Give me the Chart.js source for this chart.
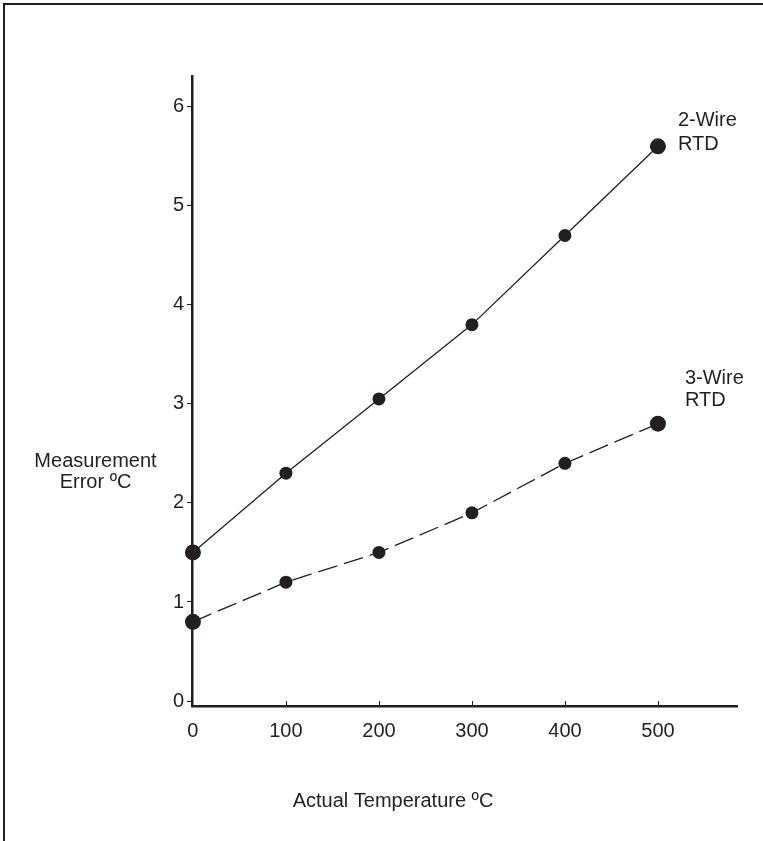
<!DOCTYPE html>
<html>
<head>
<meta charset="utf-8">
<script src="https://cdn.jsdelivr.net/npm/chart.js@4"></script>
<style>
  html, body { margin: 0; padding: 0; background: #fff; }
  canvas { display: block; }
</style>
</head>
<body>
<canvas id="rtdChart" width="763" height="841"></canvas>
<script>
// Measurement error vs actual temperature, 2-wire vs 3-wire RTD
const temps = [0, 100, 200, 300, 400, 500];
const twoWire = [1.5, 2.3, 3.05, 3.8, 4.7, 5.6];
const threeWire = [0.8, 1.2, 1.5, 1.9, 2.4, 2.8];
const xTicks = [0, 100, 200, 300, 400, 500];
const yTicks = [0, 1, 2, 3, 4, 5, 6];
const seriesNames = [['2-Wire', 'RTD'], ['3-Wire', 'RTD']];

const ink = '#231f20';
const font = "'Liberation Sans', Arial, Helvetica, sans-serif";
const bigEnds = [8, 6.5, 6.5, 6.5, 6.5, 8];

const toPoints = arr => temps.map((t, i) => ({ x: t, y: arr[i] }));

const decor = {
    id: 'decor',
    beforeDraw(chart) {
        const c = chart.ctx;
        c.save();
        c.fillStyle = ink;
        c.fillRect(3, 3, 760, 2);   // frame top
        c.fillRect(3, 3, 2, 838);   // frame left
        c.restore();
    },
    afterDraw(chart) {
        const c = chart.ctx;
        const xs = chart.scales.x;
        const ys = chart.scales.y;
        c.save();
        // inward ticks on x axis
        c.strokeStyle = ink;
        c.lineWidth = 1;
        xTicks.forEach(v => {
            if (v === 0) return;
            const px = Math.round(xs.getPixelForValue(v)) + 0.5;
            c.beginPath();
            c.moveTo(px, ys.bottom);
            c.lineTo(px, ys.bottom - 5);
            c.stroke();
        });
        c.fillStyle = ink;
        c.font = '20px ' + font;
        c.textBaseline = 'middle';
        // axis titles
        c.textAlign = 'center';
        c.fillText('Measurement', 95.5, 461);
        c.fillText('Error ºC', 95.5, 482);
        c.fillText('Actual Temperature ºC', 393, 801);
        // series labels next to last point
        const offs = [[20, -26, -2], [27, -45, -23]];
        c.textAlign = 'left';
        chart.data.datasets.forEach((ds, i) => {
            const meta = chart.getDatasetMeta(i);
            const p = meta.data[meta.data.length - 1];
            const o = offs[i];
            c.fillText(seriesNames[i][0], p.x + o[0], p.y + o[1]);
            c.fillText(seriesNames[i][1], p.x + o[0], p.y + o[2]);
        });
        c.restore();
    }
};

new Chart(document.getElementById('rtdChart'), {
    type: 'line',
    data: {
        datasets: [{
            label: '2-Wire RTD',
            data: toPoints(twoWire),
            borderColor: ink,
            borderWidth: 1.3,
            backgroundColor: ink,
            pointBackgroundColor: ink,
            pointBorderWidth: 0,
            pointRadius: bigEnds,
            tension: 0,
            clip: false
        }, {
            label: '3-Wire RTD',
            data: toPoints(threeWire),
            borderColor: ink,
            borderWidth: 1.3,
            borderDash: [20, 7],
            backgroundColor: ink,
            pointBackgroundColor: ink,
            pointBorderWidth: 0,
            pointRadius: bigEnds,
            tension: 0,
            clip: false
        }]
    },
    options: {
        responsive: false,
        animation: false,
        devicePixelRatio: 1,
        layout: { padding: { top: 76, right: 26, left: 0, bottom: 0 } },
        plugins: {
            legend: { display: false },
            tooltip: { enabled: false }
        },
        scales: {
            x: {
                type: 'linear',
                min: -1,
                max: 585,
                afterBuildTicks: s => { s.ticks = xTicks.map(v => ({ value: v })); },
                afterFit: s => { s.height = 135; },
                grid: { display: true, drawOnChartArea: false, drawTicks: false },
                border: { display: true, color: ink, width: 2.5 },
                ticks: { color: ink, font: { family: font, size: 20 }, padding: 13, maxRotation: 0 }
            },
            y: {
                min: -0.05,
                max: 6.31,
                afterBuildTicks: s => { s.ticks = yTicks.map(v => ({ value: v })); },
                afterFit: s => { s.width = 192; },
                grid: { display: true, drawOnChartArea: false, drawTicks: true, tickLength: 5, tickWidth: 1, tickColor: ink },
                border: { display: true, color: ink, width: 2.5 },
                ticks: { color: ink, font: { family: font, size: 20 }, padding: 3 }
            }
        }
    },
    plugins: [decor]
});
</script>
</body>
</html>
